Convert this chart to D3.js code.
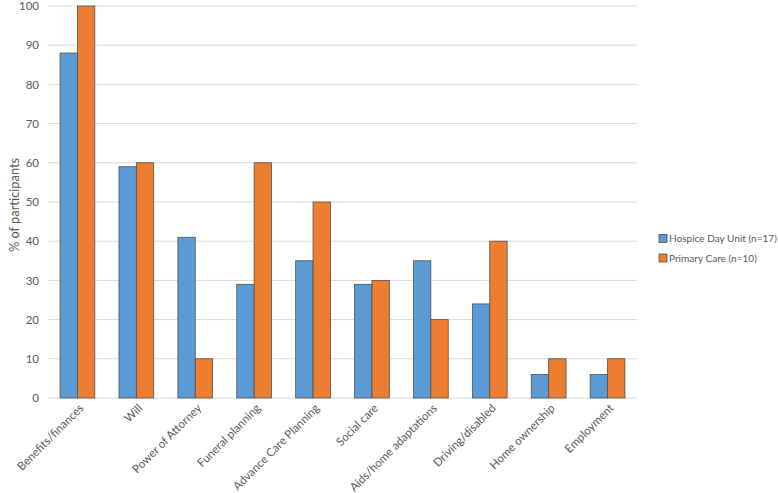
<!DOCTYPE html>
<html><head><meta charset="utf-8">
<script src="https://cdn.jsdelivr.net/npm/d3@7"></script>
<style>body{margin:0;background:#fff}svg{display:block}</style>
</head><body>
<script>
const categories = ["Benefits/finances","Will","Power of Attorney","Funeral planning","Advance Care Planning","Social care","Aids/home adaptations","Driving/disabled","Home ownership","Employment"];
const seriesNames = ["Hospice Day Unit (n=17)","Primary Care (n=10)"];
const hospice = [88,59,41,29,35,29,35,24,6,6];
const primary = [100,60,10,60,50,30,20,40,10,10];
const yTicks = [0,10,20,30,40,50,60,70,80,90,100];
const colors = ["#5B9BD5","#ED7D31"];

(function(){
const W=778,H=493;
const mL=48,mR=637,mT=6,mB=398;
const font="Lato, 'Open Sans', sans-serif";
const svg=d3.select("body").append("svg").attr("width",W).attr("height",H);

const x=d3.scaleBand().domain(categories).range([mL,mR]).paddingInner(0.41).paddingOuter(0.205);
const xs=d3.scaleBand().domain([0,1]).range([0,x.bandwidth()]);
const y=d3.scaleLinear().domain([0,100]).range([mB,mT]);

svg.append("g").selectAll("line").data(yTicks).join("line")
  .attr("x1",mL).attr("x2",mR).attr("y1",d=>y(d)).attr("y2",d=>y(d))
  .attr("stroke","#D9D9D9").attr("stroke-width",1);

const yAxis=d3.axisLeft(y).tickValues(yTicks).tickSize(0).tickPadding(9);
const ya=svg.append("g").attr("transform",`translate(${mL},0)`).call(yAxis);
ya.select(".domain").remove();
ya.selectAll("text").attr("font-family",font).attr("font-size",11.5).attr("fill","#595959");

const data=[hospice,primary];
data.forEach((vals,si)=>{
  svg.append("g").selectAll("rect").data(categories).join("rect")
    .attr("x",(c)=>x(c)+xs(si))
    .attr("width",xs.bandwidth())
    .attr("y",(c,i)=>y(vals[i]))
    .attr("height",(c,i)=>y(0)-y(vals[i]))
    .attr("fill",colors[si]).attr("stroke","#505050").attr("stroke-width",0.8);
});

const xAxis=d3.axisBottom(x).tickSize(0).tickPadding(0);
const xa=svg.append("g").attr("transform",`translate(0,${mB})`).call(xAxis);
xa.select(".domain").remove();
xa.selectAll("text").attr("font-family",font).attr("font-size",11.5).attr("fill","#595959")
  .attr("text-anchor","end").attr("dy","0.35em").attr("y",0)
  .attr("transform","translate(4,8) rotate(-45)");

svg.append("text").attr("transform",`translate(15,205) rotate(-90)`)
  .attr("text-anchor","middle").attr("dy","0.35em")
  .attr("font-family",font).attr("font-size",12.8).attr("fill","#595959").text("% of participants");

const lg=svg.append("g");
let lfs=11.5;
const probe=lg.append("text").attr("font-family",font).attr("font-size",lfs).text(seriesNames[0]);
const wlen=probe.node().getComputedTextLength();
probe.remove();
if(wlen>0) lfs=Math.min(11.5,lfs*108/wlen);
seriesNames.forEach((n,i)=>{
  const cy=238.5+i*19.5;
  lg.append("rect").attr("x",659).attr("y",cy-4).attr("width",8).attr("height",8)
    .attr("fill",colors[i]).attr("stroke","#505050").attr("stroke-width",0.8);
  lg.append("text").attr("x",669).attr("y",cy).attr("dy","0.35em")
    .attr("font-family",font).attr("font-size",lfs).attr("fill","#595959").text(n);
});
})();
</script>
</body></html>
